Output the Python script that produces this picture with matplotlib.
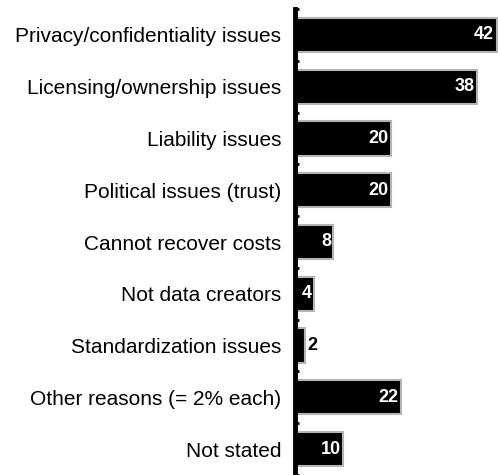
import matplotlib as mpl
mpl.use('Agg')
import matplotlib.pyplot as plt

categories = ['Privacy/confidentiality issues', 'Licensing/ownership issues',
              'Liability issues', 'Political issues (trust)', 'Cannot recover costs',
              'Not data creators', 'Standardization issues',
              'Other reasons (= 2% each)', 'Not stated']
values = [42, 38, 20, 20, 8, 4, 2, 22, 10]

plt.rcParams['font.family'] = ['Liberation Sans', 'DejaVu Sans']

fig = plt.figure(figsize=(4.98, 4.75), dpi=100)
ax = fig.add_axes([295/498, 0.0, 1 - 295/498, 466/475])

ypos = list(range(len(values)))
ax.barh(ypos, values, height=0.66, color='black', edgecolor='#b4b4b4', linewidth=1.5)

for y, v in zip(ypos, values):
    if v >= 4:
        ax.text(v - 0.5, y, str(v), color='white', fontweight='bold', fontsize=13,
                ha='right', va='center')
    else:
        ax.text(v + 0.5, y, str(v), color='black', fontweight='bold', fontsize=13,
                ha='left', va='center')

ax.set_xlim(0, 42.3)
ax.set_ylim(8.45, -0.45)
ax.set_yticks([i + 0.5 for i in range(-1, len(values))], minor=False)
ax.set_yticklabels([])
ax.set_yticks(ypos, minor=True)
ax.set_yticklabels(categories, minor=True, fontsize=15)
ax.tick_params(axis='y', which='minor', length=0, pad=10)
ax.tick_params(axis='y', which='major', direction='in', length=3, width=2)
ax.set_xticks([])
for s in ['top', 'right', 'bottom']:
    ax.spines[s].set_visible(False)
ax.spines['left'].set_linewidth(3.5)

fig.savefig('out.png', dpi=100)
